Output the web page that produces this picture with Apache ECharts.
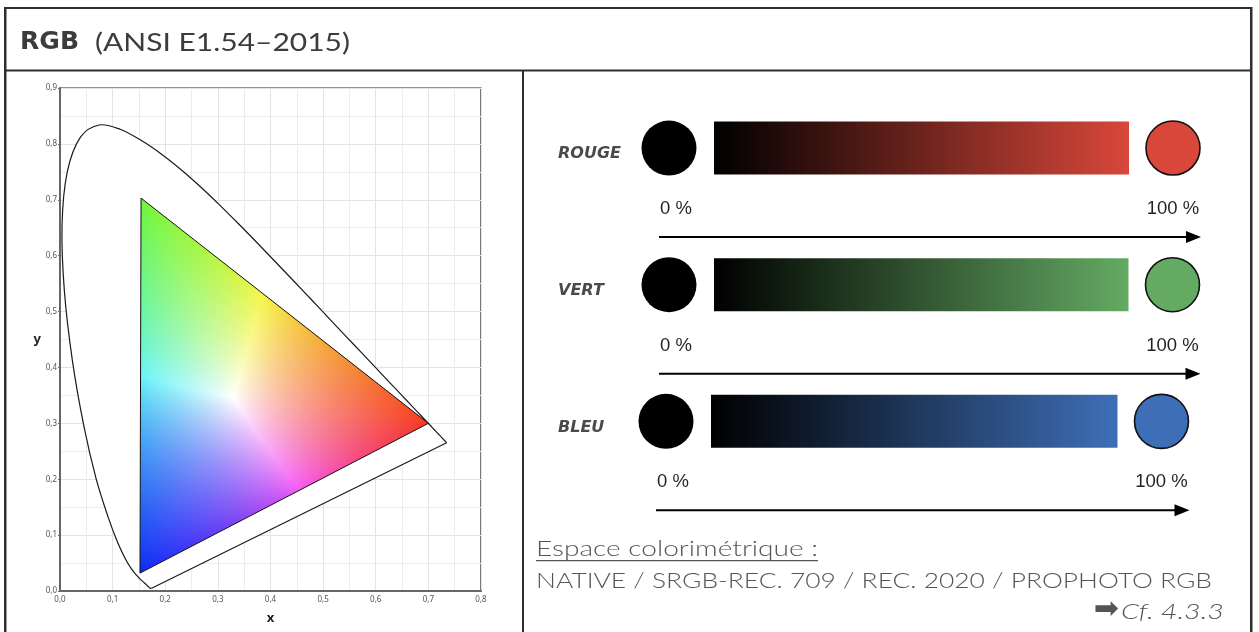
<!DOCTYPE html>
<html><head><meta charset="utf-8">
<script src="https://cdn.jsdelivr.net/npm/echarts@6/dist/echarts.min.js"></script>
<style>html,body{margin:0;padding:0;background:#fff}#c{width:1259px;height:632px}</style>
</head><body><div id="c"></div>
<script>
// CIE 1931 spectral locus (380-700 nm, 5 nm steps)
const locusX = [0.1741,0.1740,0.1738,0.1736,0.1733,0.1730,0.1726,0.1721,0.1714,0.1703,0.1689,0.1669,0.1644,0.1611,0.1566,0.1510,0.1440,0.1355,0.1241,0.1096,0.0913,0.0687,0.0454,0.0235,0.0082,0.0039,0.0139,0.0389,0.0743,0.1142,0.1547,0.1929,0.2296,0.2658,0.3016,0.3373,0.3731,0.4087,0.4441,0.4788,0.5125,0.5448,0.5752,0.6029,0.6270,0.6482,0.6658,0.6801,0.6915,0.7006,0.7079,0.7140,0.7190,0.7230,0.7260,0.7283,0.7300,0.7311,0.7320,0.7327,0.7334,0.7340,0.7344,0.7346,0.7347];
const locusY = [0.0050,0.0050,0.0049,0.0049,0.0048,0.0048,0.0048,0.0048,0.0051,0.0058,0.0069,0.0086,0.0109,0.0138,0.0177,0.0227,0.0297,0.0399,0.0578,0.0868,0.1327,0.2007,0.2950,0.4127,0.5384,0.6548,0.7502,0.8120,0.8338,0.8262,0.8059,0.7816,0.7543,0.7243,0.6923,0.6589,0.6245,0.5896,0.5547,0.5202,0.4866,0.4544,0.4242,0.3965,0.3725,0.3514,0.3340,0.3197,0.3083,0.2993,0.2920,0.2859,0.2809,0.2770,0.2740,0.2717,0.2700,0.2689,0.2680,0.2673,0.2666,0.2660,0.2656,0.2654,0.2653];
// Gamut triangle primaries R, G, B
const gamutX = [0.700, 0.154, 0.152];
const gamutY = [0.300, 0.703, 0.032];
const primaryColors = [[225,50,30],[110,245,60],[10,42,246]];
const xTickLabels = ['0,0','0,1','0,2','0,3','0,4','0,5','0,6','0,7','0,8'];
const yTickLabels = ['0,0','0,1','0,2','0,3','0,4','0,5','0,6','0,7','0,8','0,9'];
// Right panel
const channels = ['ROUGE','VERT','BLEU'];
const channelColors = ['#d9473a','#64aa63','#3e6fb6'];
const percentValues = [0, 100];
const percentLabels = ['0 %','100 %'];

// layout-only tweaks (pixels) per row
const rowLeftShift = [0, 0, -3];
const rowRightShift = [0, -0.5, -11.5];

const W = 1259, H = 632;
const chart = echarts.init(document.getElementById('c'), null, {renderer:'canvas'});

function meshColor(wa, wb, wc) {
  const w = [Math.max(wa,0), Math.max(wb,0), Math.max(wc,0)];
  const m = Math.max(w[0], w[1], w[2]) || 1;
  const k = w.map(v => Math.pow(v/m, 0.85));
  const c = [0,1,2].map(ch => k[0]*primaryColors[0][ch] + k[1]*primaryColors[1][ch] + k[2]*primaryColors[2][ch]);
  const cm = Math.max(c[0], c[1], c[2]) || 1;
  const top = 255 - 10 * (1 - Math.min(k[0], k[1], k[2]));
  return c.map(v => Math.round(v * top / cm));
}

function renderMesh(params, api) {
  const A = api.coord([gamutX[0], gamutY[0]]);
  const B = api.coord([gamutX[1], gamutY[1]]);
  const C = api.coord([gamutX[2], gamutY[2]]);
  const s = window.devicePixelRatio || 1;
  const cv = document.createElement('canvas');
  cv.width = Math.ceil(W*s); cv.height = Math.ceil(H*s);
  const ctx = cv.getContext('2d');
  const minX = Math.floor(Math.min(A[0],B[0],C[0]) - 3), maxX = Math.ceil(Math.max(A[0],B[0],C[0]) + 3);
  const minY = Math.floor(Math.min(A[1],B[1],C[1]) - 3), maxY = Math.ceil(Math.max(A[1],B[1],C[1]) + 3);
  const iw = Math.round((maxX-minX)*s), ih = Math.round((maxY-minY)*s);
  const img = ctx.createImageData(iw, ih);
  const det = (B[1]-C[1])*(A[0]-C[0]) + (C[0]-B[0])*(A[1]-C[1]);
  for (let py = 0; py < ih; py++) {
    const Y = minY + (py+0.5)/s;
    for (let px = 0; px < iw; px++) {
      const X = minX + (px+0.5)/s;
      const wa = ((B[1]-C[1])*(X-C[0]) + (C[0]-B[0])*(Y-C[1]))/det;
      const wb = ((C[1]-A[1])*(X-C[0]) + (A[0]-C[0])*(Y-C[1]))/det;
      const wc = 1 - wa - wb;
      const c = meshColor(wa, wb, wc);
      const o = (py*iw + px)*4;
      img.data[o] = c[0]; img.data[o+1] = c[1]; img.data[o+2] = c[2]; img.data[o+3] = 255;
    }
  }
  ctx.putImageData(img, Math.round(minX*s), Math.round(minY*s));
  return {type:'polygon', shape:{points:[A,B,C]}, style:{fill:{image:cv, repeat:'no-repeat', scaleX:1/s, scaleY:1/s}, stroke:null}};
}

function renderLocus(params, api) {
  const pts = locusX.map((x, i) => api.coord([x, locusY[i]]));
  return {type:'group', children:[
    {type:'polygon', shape:{points:pts, smooth:0.35}, style:{fill:'#ffffff', stroke:null}},
    {type:'polyline', shape:{points:pts, smooth:0.35}, style:{fill:null, stroke:'#1a1a1a', lineWidth:1.2}},
    {type:'line', shape:{x1:pts[pts.length-1][0], y1:pts[pts.length-1][1], x2:pts[0][0], y2:pts[0][1]}, style:{stroke:'#1a1a1a', lineWidth:1.2}}
  ]};
}

function renderGamutOutline(params, api) {
  const pts = gamutX.map((x, i) => api.coord([x, gamutY[i]]));
  return {type:'polygon', shape:{points:pts}, style:{fill:null, stroke:'#111', lineWidth:1}};
}

function renderChannel(params, api) {
  const i = params.dataIndex;
  const b0 = api.coord([api.value(0), i]);
  const b1 = api.coord([api.value(2), i]);
  const x0 = b0[0] + rowLeftShift[i], x1 = b1[0] + rowRightShift[i];
  const cy = b0[1];
  const col = channelColors[i];
  const txt = (x, y, s, align, font, fill) => ({type:'text', x, y, style:{text:s, fill, font, align, verticalAlign:'middle', textAlign:align, textVerticalAlign:'middle'}});
  const pf = '18.5px "Liberation Sans", Arial, sans-serif';
  return {type:'group', children:[
    txt(b0[0]-111, cy+6, channels[i], 'left', 'italic bold 16px "DejaVu Sans", sans-serif', '#4a4a4a'),
    {type:'circle', shape:{cx:x0, cy, r:27.5}, style:{fill:'#000'}},
    {type:'rect', shape:{x:x0+45, y:cy-26.5, width:(x1-44)-(x0+45), height:53},
      style:{fill:new echarts.graphic.LinearGradient(0,0,1,0,[{offset:0,color:'#000'},{offset:1,color:col}])}},
    {type:'circle', shape:{cx:x1, cy, r:27}, style:{fill:col, stroke:'#111', lineWidth:1.6}},
    txt(x0-9, cy+61, percentLabels[0], 'left', pf, '#1f2327'),
    txt(x1, cy+61, percentLabels[1], 'center', pf, '#1f2327'),
    {type:'line', shape:{x1:x0-10, y1:cy+89, x2:x1+16, y2:cy+89}, style:{stroke:'#000', lineWidth:2}},
    {type:'polygon', shape:{points:[[x1+28, cy+89],[x1+13, cy+83],[x1+13, cy+95]]}, style:{fill:'#000'}}
  ]};
}

// text fitting (horizontal scale so widths match the reference layout)
const mctx = document.createElement('canvas').getContext('2d');
function fitScale(text, font, target) { mctx.font = font; return target / mctx.measureText(text).width; }
const titleBold = 'bold 24px "DejaVu Sans", sans-serif';
const titleReg = '25px Lato, "DejaVu Sans", sans-serif';
const bottomFont = '300 22px Lato, "DejaVu Sans", sans-serif';
const bottomItalic = 'italic 300 22px Lato, "DejaVu Sans", sans-serif';
const espaceText = 'Espace colorimétrique :';
const spacesText = 'NATIVE / SRGB-REC. 709 / REC. 2020 / PROPHOTO RGB';
const cfText = 'Cf. 4.3.3';

function gtext(x, y, text, font, fill, align, target) {
  const sx = target ? fitScale(text, font, target) : 1;
  return {type:'text', x, y, scaleX:sx, silent:true, style:{text, fill, font, align, verticalAlign:'middle', textAlign:align, textVerticalAlign:'middle'}};
}

const frameColor = '#2e2e2e';
const option = {
  animation: false,
  grid: [
    {left:60, top:88, width:421, height:503, show:true, borderColor:'#222', borderWidth:1.2, backgroundColor:'transparent'},
    {left:669, width:504, top:79.7, height:410}
  ],
  xAxis: [
    {gridIndex:0, type:'value', min:0, max:0.8, interval:0.1,
      name:'x', nameLocation:'middle', nameGap:21, nameTextStyle:{fontWeight:'bold', fontSize:13, color:'#222', fontFamily:'"Noto Sans", sans-serif'},
      axisLine:{show:true, onZero:false, lineStyle:{color:'#666', width:2}},
      axisTick:{show:false},
      axisLabel:{fontSize:8, color:'#555', margin:5, fontFamily:'"Noto Sans", sans-serif', formatter:v => xTickLabels[Math.round(v*10)]},
      splitLine:{show:true, lineStyle:{color:'#e4e4e4', width:1}},
      minorTick:{show:false, splitNumber:2},
      minorSplitLine:{show:true, lineStyle:{color:'#ececec', width:1}}},
    {gridIndex:1, type:'value', min:0, max:100, show:false}
  ],
  yAxis: [
    {gridIndex:0, type:'value', min:0, max:0.9, interval:0.1,
      name:'y', nameLocation:'middle', nameGap:9, nameRotate:0, nameTextStyle:{fontWeight:'bold', fontSize:13, color:'#222', fontFamily:'"Noto Sans", sans-serif'},
      axisLine:{show:true, onZero:false, lineStyle:{color:'#666', width:2}},
      axisTick:{show:true, length:2, lineStyle:{color:'#666'}},
      axisLabel:{fontSize:8, color:'#555', margin:3, fontFamily:'"Noto Sans", sans-serif', formatter:v => yTickLabels[Math.round(v*10)]},
      splitLine:{show:true, lineStyle:{color:'#e4e4e4', width:1}},
      minorTick:{show:false, splitNumber:2},
      minorSplitLine:{show:true, lineStyle:{color:'#ececec', width:1}}},
    {gridIndex:1, type:'category', data:channels, inverse:true, show:false}
  ],
  series: [
    {type:'custom', xAxisIndex:0, yAxisIndex:0, data:[[0,0]], renderItem:renderLocus, silent:true, z:2, clip:false},
    {type:'custom', xAxisIndex:0, yAxisIndex:0, data:[[0,0]], renderItem:renderMesh, silent:true, z:3, clip:false},
    {type:'custom', xAxisIndex:0, yAxisIndex:0, data:[[0,0]], renderItem:renderGamutOutline, silent:true, z:4, clip:false},
    {type:'custom', xAxisIndex:1, yAxisIndex:1, data:channels.map((c, i) => [percentValues[0], i, percentValues[1]]), renderItem:renderChannel, silent:true, z:5, clip:false}
  ],
  graphic: [
    {type:'rect', shape:{x:4, y:7, width:1247, height:2}, style:{fill:frameColor}, silent:true},
    {type:'rect', shape:{x:4, y:7, width:2.5, height:630}, style:{fill:frameColor}, silent:true},
    {type:'rect', shape:{x:1250, y:7, width:2.5, height:630}, style:{fill:frameColor}, silent:true},
    {type:'rect', shape:{x:4, y:69.5, width:1247, height:2}, style:{fill:frameColor}, silent:true},
    {type:'rect', shape:{x:522, y:70, width:2, height:570}, style:{fill:frameColor}, silent:true},
    gtext(20, 43, 'RGB', titleBold, '#3c3c3c', 'left', 59),
    gtext(95, 43, '(ANSI E1.54–2015)', titleReg, '#3c3c3c', 'left', 255),
    gtext(536, 549, espaceText, bottomFont, '#555', 'left', 282),
    {type:'rect', shape:{x:536, y:560, width:282, height:1.3}, style:{fill:'#555'}, silent:true},
    gtext(536, 581, spacesText, bottomFont, '#555', 'left', 676),
    gtext(1224, 612, cfText, bottomItalic, '#555', 'right', 103),
    {type:'text', x:1119, y:610, silent:true, style:{text:'➡', fill:'#555', font:'30px "DejaVu Sans", sans-serif', align:'right', verticalAlign:'middle', textAlign:'right', textVerticalAlign:'middle'}}
  ]
};
chart.setOption(option);
</script></body></html>
